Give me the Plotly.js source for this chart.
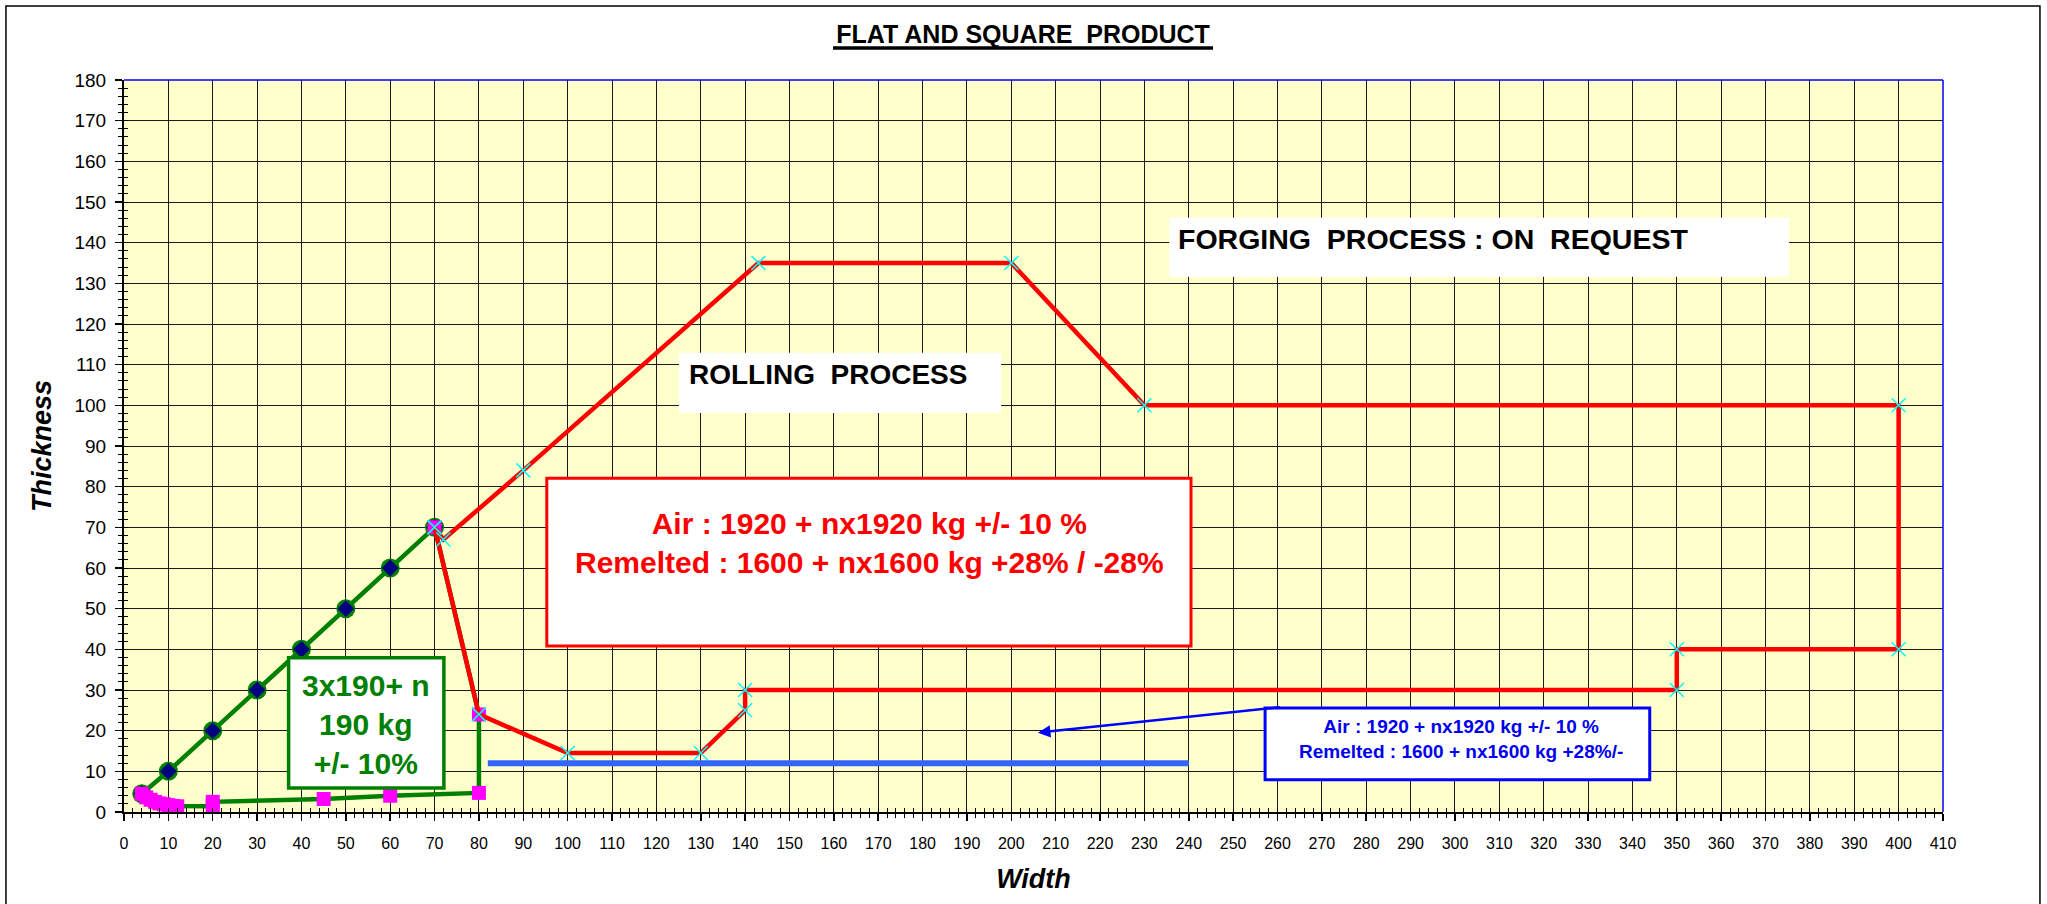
<!DOCTYPE html>
<html>
<head>
<meta charset="utf-8">
<script src="https://cdn.plot.ly/plotly-3.0.1.min.js"></script>
<style>html,body{margin:0;padding:0;background:#fff;}</style>
</head>
<body>
<div id="chart" style="width:2047px;height:904px;"></div>
<script>
// ---- data ----
const squareWidth = [4, 10, 20, 30, 40, 50, 60, 70];
const squareThick = [4.5, 10, 20, 30, 40, 50, 60, 70];

const flatWidth = [70, 80, 80, 60, 45, 20, 20, 12, 11, 10, 9, 8, 7, 6, 5, 4];
const flatThick = [70, 24, 4.7, 4, 3.2, 2.5, 1.4, 1.4, 1.5, 1.7, 1.9, 2.1, 2.5, 3, 3.6, 4.5];

const rollWidth = [70, 72, 90, 143, 200, 230, 400, 400, 350, 350, 140, 140, 130, 100, 80, 70];
const rollThick = [70, 67, 84, 135, 135, 100, 100, 40, 40, 30, 30, 25, 14.5, 14.5, 24, 70];

const blueWidth = [82, 240];
const blueThick = [12, 12];

const xRange = [0, 410];
const yRange = [0, 180];

const FONT = "'Liberation Sans', Arial, Helvetica, sans-serif";
const NARROW = "'Liberation Sans Narrow', 'Arial Narrow', 'Liberation Sans', Arial, sans-serif";

const traces = [
  { x: squareWidth, y: squareThick, mode: 'lines+markers', xaxis: 'x', yaxis: 'y',
    line: { color: '#008000', width: 4.5 },
    marker: { symbol: 'circle', size: 19, color: '#008000' }, hoverinfo: 'skip' },
  { x: squareWidth, y: squareThick, mode: 'markers',
    marker: { symbol: 'diamond', size: 13, color: '#000080' }, hoverinfo: 'skip' },
  { x: flatWidth, y: flatThick, mode: 'lines+markers',
    line: { color: '#008000', width: 4.5 },
    marker: { symbol: 'square', size: 14, color: '#FF00FF' }, hoverinfo: 'skip' },
  { x: rollWidth, y: rollThick, mode: 'lines+markers',
    line: { color: '#FF0000', width: 4.5 },
    marker: { symbol: 'x-thin', size: 14, color: '#00FFFF', line: { color: '#00FFFF', width: 1.5 } },
    hoverinfo: 'skip' },
  { x: blueWidth, y: blueThick, mode: 'lines',
    line: { color: '#3366FF', width: 6 }, hoverinfo: 'skip' },
  { x: [null], y: [null], xaxis: 'x2', yaxis: 'y2', mode: 'markers', hoverinfo: 'skip' }
];

const layout = {
  width: 2047, height: 904,
  margin: { l: 124, r: 104, t: 80, b: 92 },
  paper_bgcolor: '#FFFFFF',
  plot_bgcolor: '#FFFFCC',
  showlegend: false,
  title: {
    text: 'FLAT AND SQUARE\u00a0 PRODUCT',
    font: { family: FONT, size: 25, color: '#000', weight: 'bold' },
    xref: 'container', yref: 'container', x: 0.4998, y: 0.9624,
    xanchor: 'center', yanchor: 'middle'
  },
  xaxis: {
    range: xRange, dtick: 10, tick0: 0,
    showgrid: true, gridcolor: '#1a1a1a', gridwidth: 1,
    zeroline: false, showline: true, linecolor: '#000', linewidth: 2,
    ticks: 'outside', ticklen: 7, tickwidth: 1.5, tickcolor: '#000',
    minor: { dtick: 2, ticks: 'outside', ticklen: 4, tickwidth: 1, tickcolor: '#000', showgrid: false },
    tickfont: { family: NARROW, size: 16, color: '#000' },
    ticklabelstandoff: 9,
    title: { text: 'Width', font: { family: FONT, size: 27, color: '#000', weight: 'bold', style: 'italic' }, standoff: 18 },
    fixedrange: true
  },
  yaxis: {
    range: yRange, dtick: 10, tick0: 0,
    showgrid: true, gridcolor: '#1a1a1a', gridwidth: 1,
    zeroline: false, showline: true, linecolor: '#000', linewidth: 2,
    ticks: 'outside', ticklen: 7, tickwidth: 1.5, tickcolor: '#000',
    minor: { dtick: 2, ticks: 'outside', ticklen: 4, tickwidth: 1, tickcolor: '#000', showgrid: false },
    tickfont: { family: FONT, size: 19, color: '#000' },
    ticklabelstandoff: 5,
    title: { text: 'Thickness', font: { family: FONT, size: 27, color: '#000', weight: 'bold', style: 'italic' }, standoff: 15 },
    fixedrange: true
  },
  xaxis2: {
    overlaying: 'x', anchor: 'y2', range: xRange, dtick: 10, side: 'bottom',
    showgrid: false, zeroline: false, showline: false, showticklabels: false,
    ticks: 'inside', ticklen: 4, tickwidth: 1, tickcolor: '#000',
    minor: { dtick: 2, ticks: 'inside', ticklen: 4, tickwidth: 1, tickcolor: '#000', showgrid: false },
    fixedrange: true
  },
  yaxis2: {
    overlaying: 'y', anchor: 'x2', range: yRange, dtick: 10, side: 'left',
    showgrid: false, zeroline: false, showline: false, showticklabels: false,
    ticks: 'inside', ticklen: 4, tickwidth: 1, tickcolor: '#000',
    minor: { dtick: 2, ticks: 'inside', ticklen: 4, tickwidth: 1, tickcolor: '#000', showgrid: false },
    fixedrange: true
  },
  shapes: [
    { type: 'rect', xref: 'paper', yref: 'paper', x0: -0.0649, x1: 1.0533, y0: -0.14, y1: 1.1011,
      line: { color: '#000', width: 1.5 }, fillcolor: 'rgba(0,0,0,0)', layer: 'below' },
    { type: 'line', xref: 'paper', yref: 'paper', x0: 0, x1: 1, y0: 1, y1: 1,
      line: { color: '#0000FF', width: 1.5 }, layer: 'above' },
    { type: 'line', xref: 'paper', yref: 'paper', x0: 1, x1: 1, y0: 0, y1: 1,
      line: { color: '#0000FF', width: 1.5 }, layer: 'above' },
    { type: 'line', xref: 'paper', yref: 'paper', x0: 0.3898, x1: 0.5987, y0: 1.0437, y1: 1.0437,
      line: { color: '#000', width: 3.5 } },
    { type: 'rect', xref: 'x', yref: 'y', x0: 95.3, x1: 240.5, y0: 40.8, y1: 82.1,
      line: { color: '#FF0000', width: 3 }, fillcolor: '#FFFFFF', layer: 'above' },
    { type: 'rect', xref: 'x', yref: 'y', x0: 37.1, x1: 72.1, y0: 5.9, y1: 37.9,
      line: { color: '#008000', width: 3.5 }, fillcolor: '#FFFFFF', layer: 'above' },
    { type: 'rect', xref: 'x', yref: 'y', x0: 125.1, x1: 197.7, y0: 98.1, y1: 112.9,
      line: { width: 0 }, fillcolor: '#FFFFFF', layer: 'above' },
    { type: 'rect', xref: 'x', yref: 'y', x0: 235.6, x1: 375.3, y0: 131.6, y1: 146.1,
      line: { width: 0 }, fillcolor: '#FFFFFF', layer: 'above' },
    { type: 'rect', xref: 'x', yref: 'y', x0: 257.2, x1: 343.9, y0: 7.9, y1: 25.6,
      line: { color: '#0000FF', width: 3 }, fillcolor: '#FFFFFF', layer: 'above' }
  ],
  annotations: [
    { x: 168.1, y: 66.15, xref: 'x', yref: 'y', showarrow: false, xanchor: 'center', yanchor: 'middle',
      text: 'Air : 1920 + nx1920 kg +/- 10 %<br>Remelted : 1600 + nx1600 kg +28% / -28%',
      font: { family: FONT, size: 30, color: '#FF0000', weight: 'bold' } },
    { x: 54.5, y: 21.4, xref: 'x', yref: 'y', showarrow: false, xanchor: 'center', yanchor: 'middle',
      text: '3x190+ n<br>190 kg<br>+/- 10%',
      font: { family: FONT, size: 30, color: '#008000', weight: 'bold' } },
    { x: 126.9, y: 107.7, xref: 'x', yref: 'y', showarrow: false, xanchor: 'left', yanchor: 'middle',
      text: 'ROLLING\u00a0 PROCESS',
      font: { family: FONT, size: 28, color: '#000', weight: 'bold' } },
    { x: 237.1, y: 140.9, xref: 'x', yref: 'y', showarrow: false, xanchor: 'left', yanchor: 'middle',
      text: 'FORGING\u00a0 PROCESS : ON\u00a0 REQUEST',
      font: { family: FONT, size: 28.5, color: '#000', weight: 'bold' } },
    { x: 301.4, y: 17.95, xref: 'x', yref: 'y', showarrow: false, xanchor: 'center', yanchor: 'middle',
      text: 'Air : 1920 + nx1920 kg +/- 10 %<br>Remelted : 1600 + nx1600 kg +28%/-',
      font: { family: FONT, size: 19, color: '#0000EE', weight: 'bold' } },
    { x: 206, y: 19.5, xref: 'x', yref: 'y', ax: 260.9, ay: 25.8, axref: 'x', ayref: 'y',
      text: '', showarrow: true, arrowhead: 2, arrowsize: 1, arrowwidth: 2.5,
      arrowcolor: '#0000FF', standoff: 0, startstandoff: 0 }
  ]
};

Plotly.newPlot('chart', traces, layout, { displayModeBar: false, staticPlot: true });
</script>
</body>
</html>
